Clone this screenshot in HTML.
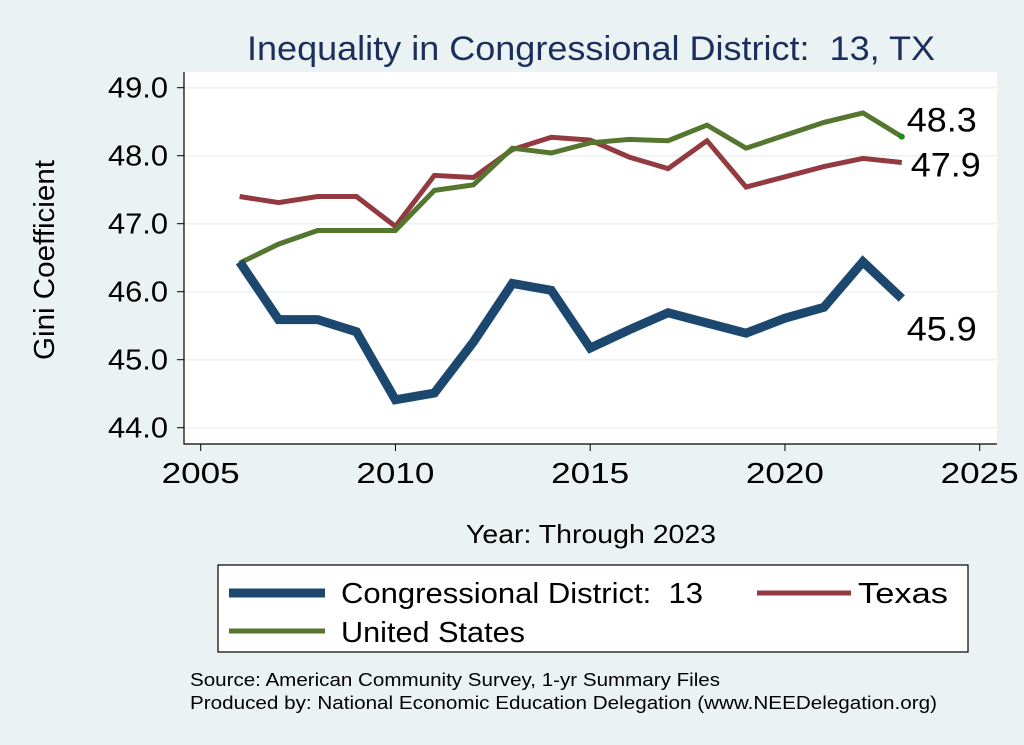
<!DOCTYPE html>
<html><head><meta charset="utf-8"><style>
body{margin:0;background:#eaf2f3;}
svg{display:block;font-family:"Liberation Sans",sans-serif;}
text{white-space:pre;}
</style></head><body>
<svg id="chart" width="1024" height="745">
<rect x="0" y="0" width="1024" height="745" fill="#eaf2f3"/>
<text x="247" y="60" font-size="34" fill="#1c2f5c" textLength="688" lengthAdjust="spacingAndGlyphs">Inequality in Congressional District:  13, TX</text>
<rect x="184" y="72" width="813" height="372" fill="#fff"/>
<g id="grid"></g>
<g id="axes"></g>
<g id="series"></g>
<text transform="translate(54,360) rotate(-90)" font-size="29" fill="#000" textLength="200" lengthAdjust="spacingAndGlyphs">Gini Coefficient</text>
<text x="466" y="543" font-size="26" fill="#000" textLength="250" lengthAdjust="spacingAndGlyphs">Year: Through 2023</text>
<g>
<rect x="218" y="565" width="750" height="87" fill="#fff" stroke="#000" stroke-width="1.2"/>
<line x1="229" y1="593" x2="325" y2="593" stroke="#1c4870" stroke-width="9"/>
<text x="341" y="603" font-size="29" textLength="362" lengthAdjust="spacingAndGlyphs">Congressional District:  13</text>
<line x1="757" y1="593" x2="851" y2="593" stroke="#923a40" stroke-width="5"/>
<text x="858" y="603" font-size="29" textLength="90" lengthAdjust="spacingAndGlyphs">Texas</text>
<line x1="229" y1="631" x2="325" y2="631" stroke="#55762e" stroke-width="5"/>
<text x="341" y="642" font-size="29" textLength="184" lengthAdjust="spacingAndGlyphs">United States</text>
</g>
<text x="190" y="686" font-size="18" textLength="530" lengthAdjust="spacingAndGlyphs">Source: American Community Survey, 1-yr Summary Files</text>
<text x="190" y="709" font-size="18" textLength="747" lengthAdjust="spacingAndGlyphs">Produced by: National Economic Education Delegation (www.NEEDelegation.org)</text>
</svg>
<script>
const years = [2006,2007,2008,2009,2010,2011,2012,2013,2014,2015,2016,2017,2018,2019,2020,2021,2022,2023];
const district = [46.44,45.59,45.59,45.41,44.41,44.51,45.26,46.12,46.02,45.17,45.44,45.69,45.54,45.39,45.61,45.77,46.44,45.9];
const texas = [47.40,47.31,47.40,47.40,46.96,47.71,47.68,48.09,48.27,48.23,47.98,47.81,48.22,47.54,47.69,47.84,47.96,47.90];
const us = [46.42,46.70,46.90,46.90,46.90,47.49,47.57,48.11,48.04,48.19,48.24,48.22,48.45,48.11,48.30,48.49,48.63,48.28];
const yTicks = [44,45,46,47,48,49];
const xTicks = [2005,2010,2015,2020,2025];
const endLabels = ["45.9","47.9","48.3"];

const NS = "http://www.w3.org/2000/svg";
function xs(v){return 200.7 + (v-2005)*38.95;}
function ys(v){return 427.7 - (v-44)*68;}
function mk(tag, attrs, parent){const e=document.createElementNS(NS,tag);for(const k in attrs)e.setAttribute(k,attrs[k]);parent.appendChild(e);return e;}
const grid=document.getElementById('grid'), axes=document.getElementById('axes'), series=document.getElementById('series');

yTicks.forEach(t=>{
  const g=mk('line',{x1:184,x2:997,y1:ys(t),y2:ys(t),stroke:'#eaf2f3','stroke-width':1.5},grid);
  
  
  const tk=mk('line',{x1:177,x2:184,y1:ys(t),y2:ys(t),stroke:'#000','stroke-width':1},axes);
  
  
  const lb=mk('text',{x:108,y:ys(t)+10,'font-size':29,textLength:60,lengthAdjust:'spacingAndGlyphs'},axes);
  lb.textContent=t.toFixed(1);
  
  
});
xTicks.forEach(t=>{
  const tk=mk('line',{x1:xs(t),x2:xs(t),y1:444,y2:451,stroke:'#000','stroke-width':1},axes);
  
  
  const lb=mk('text',{x:xs(t)-39,y:483,'font-size':29,textLength:78,lengthAdjust:'spacingAndGlyphs'},axes);
  lb.textContent=t;
  
  
});
const ax=mk('path',{d:'M184 72 V444 H997',fill:'none',stroke:'#000','stroke-width':1.2},axes);



function line(vals,color,w,name){
  const d=vals.map((v,i)=>(i?'L':'M')+xs(years[i]).toFixed(1)+' '+ys(v).toFixed(1)).join(' ');
  const p=mk('path',{d:d,fill:'none',stroke:color,'stroke-width':w,'stroke-linejoin':'miter'},series);
  
  
}
line(texas,'#923a40',5,'texas-line');
line(us,'#55762e',5,'us-line');
line(district,'#1c4870',9,'district-line');
const dot=mk('circle',{cx:xs(years[years.length-1]),cy:ys(us[us.length-1]),r:3,fill:'#1a8a1a'},series);



const lx=xs(years[years.length-1])+5;
const l1=mk('text',{x:lx,y:ys(district[district.length-1])+42,'font-size':34,textLength:70,lengthAdjust:'spacingAndGlyphs'},series);
l1.textContent=endLabels[0];


const l2=mk('text',{x:lx+4,y:ys(texas[texas.length-1])+14,'font-size':34,textLength:70,lengthAdjust:'spacingAndGlyphs'},series);
l2.textContent=endLabels[1];


const l3=mk('text',{x:lx,y:ys(us[us.length-1])-5,'font-size':34,textLength:70,lengthAdjust:'spacingAndGlyphs'},series);
l3.textContent=endLabels[2];


</script>
</body></html>
